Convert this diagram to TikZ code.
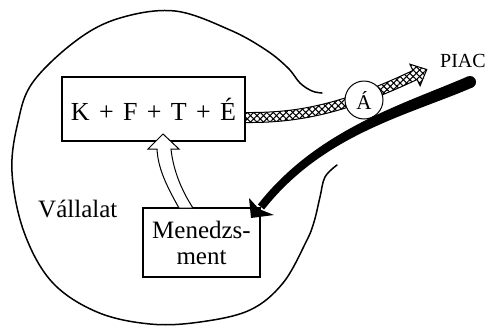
\documentclass[tikz,border=0pt]{standalone}
\usepackage{fontspec}
\setmainfont{Liberation Serif}
\usetikzlibrary{patterns.meta}

\begin{document}
\begin{tikzpicture}[x=1pt,y=-1pt,
  box/.style={draw, line width=2pt, fill=white, inner sep=0pt},
  bigtext/.style={font=\fontsize{25}{26}\selectfont},
  midtext/.style={font=\fontsize{20}{22}\selectfont},
  outline/.style={line width=1.5pt, line cap=round},
  hatchA/.style={pattern={Lines[angle=45, distance=4.6pt, line width=1.1pt]}},
  hatchB/.style={pattern={Lines[angle=-45, distance=4.6pt, line width=1.1pt]}}]
\useasboundingbox (0,0) rectangle (492,327);

% company boundary (open curve)
\draw[outline] plot[smooth, tension=0.6] coordinates {
  (337,165) (325,177) (320,197) (314,222) (306,242) (283,283) (250,310)
  (200,322) (150,324) (97,312) (52,282) (24,232) (12,172) (18,122)
  (33,82) (77,40) (120,18) (175,11) (230,30) (266,50) (288,68) (300,83)
  (312,91) (322,93)};

% inner boxes
\newcommand{\plusgap}{\hspace{0.36em}}
\node[box, minimum width=183pt, minimum height=64pt, font=\fontsize{26}{26}\selectfont]
  (kfte) at (153.5,109) {K\plusgap+\plusgap F\plusgap+\plusgap T\plusgap+\plusgap É};
\node[box, minimum width=117pt, minimum height=69pt, align=center, bigtext]
  (men) at (201.5,242.5) {Menedzs-\\ment};
\node[bigtext, anchor=base west, inner sep=0pt]
  (vall) at (38,217) {Vállalat};
\node[midtext, anchor=base west, inner sep=0pt] (piac) at (440,67) {PIAC};

% hollow arrow: management -> K+F+T+E
\coordinate (htip) at (163,134);
\draw[line width=1pt, fill=white, line join=miter]
  (179,208) .. controls (166,185) and (158,168) .. (157,149)
  -- (148,149) -- (htip) -- (179,149) -- (171,149)
  .. controls (173,168) and (180,188) .. (193,208) -- cycle;

% cross-hatched arrow: K+F+T+E -> PIAC
\coordinate (ctip) at (426.8,69.5);
\def\hatchpath{(kfte.east |- 0,112.5)
  .. controls (300,113) and (342.9,103.5) .. (412.9,70.5)
  -- (409.9,64.2) -- (ctip) -- (420.1,85.8) -- (417.1,79.5)
  .. controls (347.1,112.5) and (300,123) .. (kfte.east |- 0,122.5)}
\path[fill=white] \hatchpath -- cycle;
\path[hatchA] \hatchpath -- cycle;
\path[hatchB] \hatchpath -- cycle;
\draw[line width=1pt, line join=miter] \hatchpath;

% circle on the hatched arrow
\node[draw, circle, line width=1pt, fill=white, minimum size=38pt, inner sep=0pt,
  font=\fontsize{21}{22}\selectfont] (a) at (364,100) {Á};

% heavy black arrow: PIAC -> management, tapering toward its head
\coordinate (bstart) at (470,82);
\coordinate (bend) at (261,207);
\fill (472.4,87.5) .. controls (407.4,115.5) and (323.1,134.5) .. (264.1,209.5)
  -- (257.9,204.5) .. controls (316.9,129.5) and (402.6,104.5) .. (467.6,76.5)
  -- cycle;
\fill (bstart) circle[radius=6pt];
\fill (249,198) -- (251,218) -- (274,215) -- (259,209) -- cycle;
\end{tikzpicture}
\end{document}
